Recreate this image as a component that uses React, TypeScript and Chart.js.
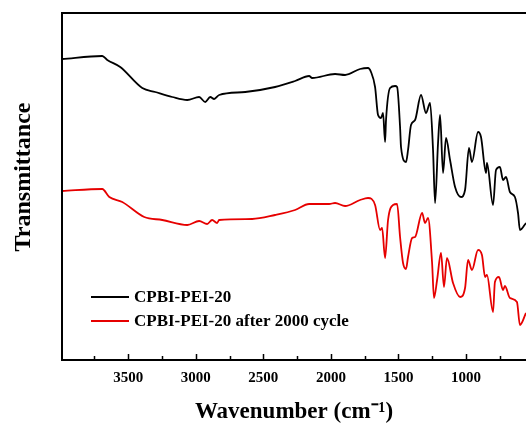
import React, { useEffect, useRef } from "react";
import { Chart, registerables } from "chart.js";

Chart.register(...registerables);

const FONT = "'Liberation Serif', 'Times New Roman', serif";

// X range (wavenumber, cm-1), reversed axis
const X_MAX = 3990;
const X_MIN = 556;
const majorTicks = [3500, 3000, 2500, 2000, 1500, 1000];
const minorTicks = [3750, 3250, 2750, 2250, 1750, 1250, 750];

const yTitle = "Transmittance";
const xTitle = "Wavenumber (cm\u207B\u00B9)";
const seriesLabels = ["CPBI-PEI-20", "CPBI-PEI-20 after 2000 cycle"];

const blackWavenumbers = [3990, 3692, 3655, 3559, 3396, 3300, 3174, 3063, 2975, 2930, 2893, 2864, 2827, 2634, 2413, 2265, 2161, 2139, 1969, 1895, 1784, 1725, 1703, 1673, 1651, 1629, 1614, 1599, 1592, 1562, 1525, 1510, 1488, 1481, 1444, 1429, 1407, 1377, 1333, 1296, 1266, 1244, 1229, 1207, 1192, 1170, 1148, 1118, 1081, 1037, 1007, 978, 956, 911, 889, 852, 845, 800, 778, 749, 726, 704, 675, 638, 615, 601, 556];
const blackTransmittance = [301, 304, 300, 293, 272, 268, 263, 260, 263, 258, 263, 261, 265, 268, 273, 279, 284, 282, 286, 285, 291, 292, 288, 273, 245, 242, 247, 218, 240, 272, 274, 273, 233, 213, 198, 210, 235, 240, 265, 247, 257, 210, 157, 217, 245, 187, 222, 200, 173, 163, 170, 212, 198, 228, 223, 187, 197, 155, 190, 193, 180, 183, 168, 163, 147, 130, 137];

const redWavenumbers = [3990, 3692, 3640, 3544, 3381, 3248, 3063, 2975, 2916, 2879, 2842, 2827, 2583, 2413, 2265, 2161, 2013, 1969, 1895, 1784, 1725, 1673, 1636, 1621, 1599, 1577, 1540, 1510, 1488, 1466, 1444, 1429, 1399, 1377, 1325, 1303, 1281, 1251, 1237, 1214, 1185, 1163, 1141, 1096, 1044, 1007, 985, 956, 911, 882, 859, 845, 800, 786, 756, 726, 712, 675, 623, 601, 556];
const redTransmittance = [169, 171, 163, 158, 143, 140, 135, 139, 136, 140, 137, 140, 141, 145, 150, 156, 156, 157, 154, 160, 162, 155, 130, 132, 102, 140, 155, 156, 123, 97, 91, 103, 122, 123, 147, 137, 142, 97, 62, 80, 107, 73, 102, 77, 63, 72, 100, 90, 110, 105, 83, 85, 48, 78, 83, 70, 74, 62, 58, 35, 47];

const seriesColors = ["#000000", "#e60000"];

const framePlugin = {
  id: "frameAndLegend",
  afterDraw(chart: any) {
    const { ctx, chartArea } = chart;
    const { left, right, top, bottom } = chartArea;
    const xs = chart.scales.x;
    ctx.save();
    ctx.strokeStyle = "#000";
    ctx.lineWidth = 2;
    ctx.beginPath();
    ctx.moveTo(right, top);
    ctx.lineTo(left, top);
    ctx.lineTo(left, bottom);
    ctx.lineTo(right, bottom);
    ctx.stroke();
    // inward ticks
    ctx.lineWidth = 1.5;
    ctx.beginPath();
    majorTicks.forEach((v) => {
      const px = Math.round(xs.getPixelForValue(v)) + 0.5;
      ctx.moveTo(px, bottom);
      ctx.lineTo(px, bottom - 6);
    });
    minorTicks.forEach((v) => {
      const px = Math.round(xs.getPixelForValue(v)) + 0.5;
      ctx.moveTo(px, bottom);
      ctx.lineTo(px, bottom - 4);
    });
    ctx.stroke();
    // y-axis title
    ctx.save();
    ctx.translate(24, 177);
    ctx.rotate(-Math.PI / 2);
    ctx.font = `bold 24px ${FONT}`;
    ctx.fillStyle = "#000";
    ctx.textAlign = "center";
    ctx.textBaseline = "middle";
    ctx.fillText(yTitle, 0, 0);
    ctx.restore();
    // legend
    const lx0 = left + 29;
    const lx1 = left + 67;
    const ys = [297, 321];
    ctx.font = `bold 17px ${FONT}`;
    ctx.textBaseline = "middle";
    ctx.textAlign = "left";
    chart.data.datasets.forEach((ds: any, i: number) => {
      ctx.strokeStyle = ds.borderColor;
      ctx.lineWidth = 1.8;
      ctx.beginPath();
      ctx.moveTo(lx0, ys[i]);
      ctx.lineTo(lx1, ys[i]);
      ctx.stroke();
      ctx.fillStyle = "#000";
      ctx.fillText(ds.label, lx1 + 5, ys[i] + 1);
    });
    ctx.restore();
  },
};

export default function App() {
  const ref = useRef<HTMLCanvasElement>(null);
  useEffect(() => {
    const canvas = ref.current;
    if (!canvas) return;
    const chart = new Chart(canvas, {
      type: "line",
      data: {
        datasets: [
          {
            label: seriesLabels[0],
            data: blackWavenumbers.map((x, i) => ({ x, y: blackTransmittance[i] })),
            borderColor: seriesColors[0],
            borderWidth: 1.8,
            pointRadius: 0,
            cubicInterpolationMode: "monotone",
            fill: false,
          },
          {
            label: seriesLabels[1],
            data: redWavenumbers.map((x, i) => ({ x, y: redTransmittance[i] })),
            borderColor: seriesColors[1],
            borderWidth: 1.8,
            pointRadius: 0,
            cubicInterpolationMode: "monotone",
            fill: false,
          },
        ],
      },
      options: {
        responsive: false,
        animation: false,
        devicePixelRatio: 1,
        layout: { padding: { top: 13, right: 0, bottom: 0, left: 0 } },
        plugins: { legend: { display: false }, tooltip: { enabled: false } },
        scales: {
          x: {
            type: "linear",
            reverse: true,
            min: X_MIN,
            max: X_MAX,
            grid: { display: false, drawTicks: false },
            border: { display: false },
            ticks: {
              color: "#000",
              padding: 9,
              font: { family: FONT, size: 15, weight: "bold" },
              callback: (v: any) => String(v),
            },
            afterBuildTicks: (s: any) => {
              s.ticks = majorTicks.map((v) => ({ value: v }));
            },
            afterFit: (s: any) => {
              s.height = 68;
            },
            title: {
              display: true,
              text: xTitle,
              color: "#000",
              font: { family: FONT, size: 23, weight: "bold" },
              padding: { top: 0, bottom: 2 },
            },
          },
          y: {
            type: "linear",
            min: 0,
            max: 347,
            grid: { display: false, drawTicks: false },
            border: { display: false },
            ticks: { display: false },
            afterFit: (s: any) => {
              s.width = 62;
            },
            title: { display: false },
          },
        },
      },
      plugins: [framePlugin],
    } as any);
    return () => chart.destroy();
  }, []);
  return (
    <div style={{ position: "fixed", left: 0, top: 0, width: 526, height: 428, background: "#fff" }}>
      <canvas ref={ref} width={526} height={428} />
    </div>
  );
}
